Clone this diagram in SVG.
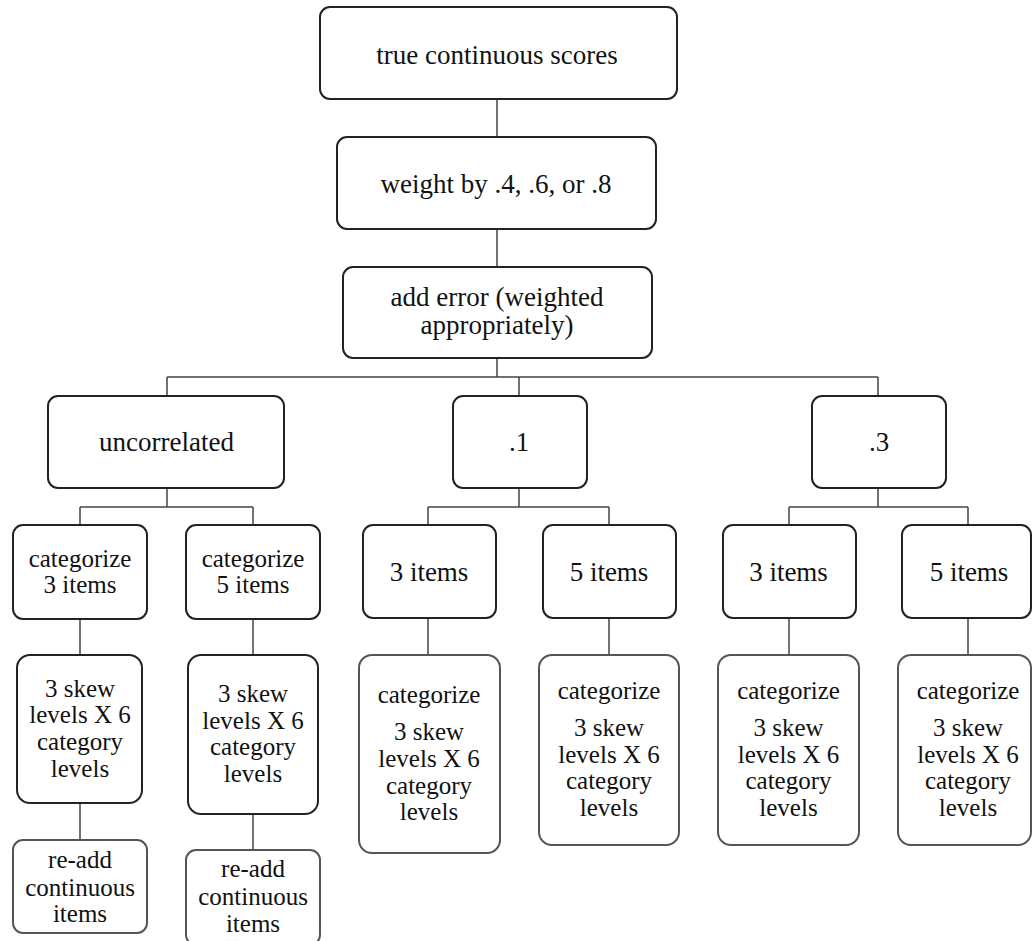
<svg xmlns="http://www.w3.org/2000/svg" width="1033" height="941" viewBox="0 0 1033 941">
<style>
.b{fill:#fff;stroke:#222;stroke-width:2}
.l{fill:#fff;stroke:#555;stroke-width:2}
.c{fill:none;stroke:#444;stroke-width:1.5}
.t text{fill:#111;text-anchor:middle}
.k{font-size:27px}
.s{font-size:25px}
</style>
<rect width="1033" height="941" fill="#fff"/>
<g id="connectors">
<path class="c" d="M497 99V137M497 229V267M497 358V377M167 377H878M167 377V396M519 377V396M878 377V396"/>
<path class="c" d="M167 488V507M80 507H253M80 507V525M253 507V525"/>
<path class="c" d="M519 488V507M428 507H609M428 507V525M609 507V525"/>
<path class="c" d="M878 488V507M789 507H968M789 507V525M968 507V525"/>
<path class="c" d="M80 619V655M253 619V655M428 619V655M609 618V655M789 618V655M968 618V655"/>
<path class="c" d="M80 803V840M253 814V850"/>
</g>
<g class="t" font-family="Liberation Serif, DejaVu Serif, serif">
<g id="n1" class="k"><rect class="b" x="320" y="7" width="357" height="92" rx="10"/><text x="497" y="64">true continuous scores</text></g>
<g id="n2" class="k"><rect class="b" x="337" y="137" width="319" height="92" rx="10"/><text x="496" y="193">weight by .4, .6, or .8</text></g>
<g id="n3" class="k"><rect class="b" x="343" y="267" width="309" height="91" rx="10"/><text x="497" y="306">add error (weighted</text><text x="497" y="334">appropriately)</text></g>
<g id="n4" class="k"><rect class="b" x="48" y="396" width="236" height="92" rx="10"/><text x="166.5" y="451">uncorrelated</text></g>
<g id="n5" class="k"><rect class="b" x="453" y="396" width="134" height="92" rx="10"/><text x="519" y="451">.1</text></g>
<g id="n6" class="k"><rect class="b" x="812" y="396" width="134" height="92" rx="10"/><text x="879" y="451">.3</text></g>
<g id="n7" class="s"><rect class="b" x="13" y="525" width="134" height="94" rx="10"/><text x="80" y="567">categorize</text><text x="80" y="593">3 items</text></g>
<g id="n8" class="s"><rect class="b" x="186" y="525" width="134" height="94" rx="10"/><text x="253" y="567">categorize</text><text x="253" y="593">5 items</text></g>
<g id="n9" class="k"><rect class="b" x="363" y="525" width="133" height="93" rx="10"/><text x="429" y="581">3 items</text></g>
<g id="n10" class="k"><rect class="b" x="543" y="525" width="133" height="93" rx="10"/><text x="609" y="581">5 items</text></g>
<g id="n11" class="k"><rect class="b" x="723" y="525" width="133" height="93" rx="10"/><text x="788.5" y="581">3 items</text></g>
<g id="n12" class="k"><rect class="b" x="902" y="525" width="129" height="93" rx="10"/><text x="969" y="581">5 items</text></g>
<g id="n13" class="s"><rect class="b" x="17" y="655" width="125" height="148" rx="13"/><text x="80" y="697">3 skew</text><text x="80" y="723">levels X 6</text><text x="80" y="750">category</text><text x="80" y="777">levels</text></g>
<g id="n14" class="s"><rect class="b" x="188" y="655" width="130" height="159" rx="13"/><text x="253" y="702">3 skew</text><text x="253" y="729">levels X 6</text><text x="253" y="755">category</text><text x="253" y="782">levels</text></g>
<g id="n15" class="s"><rect class="l" x="359" y="655" width="141" height="198" rx="13"/><text x="429" y="703">categorize</text><text x="429" y="740">3 skew</text><text x="429" y="767">levels X 6</text><text x="429" y="794">category</text><text x="429" y="820">levels</text></g>
<g id="n16" class="s"><rect class="l" x="539" y="655" width="140" height="190" rx="13"/><text x="609" y="699">categorize</text><text x="609" y="736">3 skew</text><text x="609" y="763">levels X 6</text><text x="609" y="789">category</text><text x="609" y="816">levels</text></g>
<g id="n17" class="s"><rect class="l" x="718" y="655" width="141" height="190" rx="13"/><text x="788.5" y="699">categorize</text><text x="788.5" y="736">3 skew</text><text x="788.5" y="763">levels X 6</text><text x="788.5" y="789">category</text><text x="788.5" y="816">levels</text></g>
<g id="n18" class="s"><rect class="l" x="898" y="655" width="133" height="190" rx="13"/><text x="968" y="699">categorize</text><text x="968" y="736">3 skew</text><text x="968" y="763">levels X 6</text><text x="968" y="789">category</text><text x="968" y="816">levels</text></g>
<g id="n19" class="s"><rect class="l" x="13" y="840" width="134" height="93" rx="10"/><text x="80" y="868">re-add</text><text x="80" y="896">continuous</text><text x="80" y="922">items</text></g>
<g id="n20" class="s"><rect class="l" x="186" y="850" width="134" height="95" rx="10"/><text x="253" y="877">re-add</text><text x="253" y="905">continuous</text><text x="253" y="932">items</text></g>
</g>
</svg>
